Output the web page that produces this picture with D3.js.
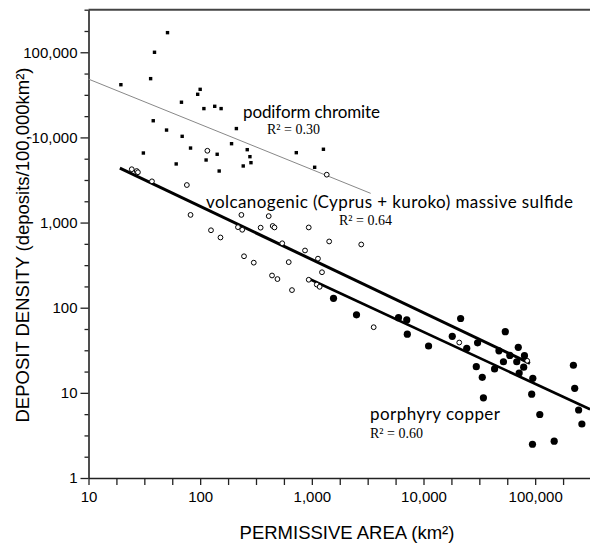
<!DOCTYPE html>
<html>
<head>
<meta charset="utf-8">
<script src="https://cdn.jsdelivr.net/npm/d3@7"></script>
<style>
body { margin: 0; background: #fff; }
</style>
</head>
<body>
<div id="vis"></div>
<script>
var width = 590;
var height = 545;

// podiform chromite, filled squares (km2, deposits/100,000km2)
var chromiteArea = [51, 39, 36, 19.5, 100, 95, 68, 108, 135, 154, 38, 50, 69, 211, 82, 191, 31, 142, 113, 264, 279, 285, 243, 61, 148, 726, 1270, 1060];
var chromiteDensity = [170000, 100000, 49000, 41600, 36700, 32100, 25900, 21800, 23200, 21800, 15700, 12200, 10300, 12700, 7500, 8440, 6560, 6340, 5430, 7180, 5940, 5050, 4620, 4880, 4030, 6620, 7260, 4460];

// volcanogenic massive sulfide, open circles
var vmsArea = [24.4, 27, 27.7, 37, 76, 116, 1360, 82, 234, 411, 125, 152, 218, 238, 348, 446, 463, 938, 543, 869, 1430, 2770, 1135, 247, 302, 621, 1233, 440, 492, 938, 1107, 1175, 664, 3580, 20900, 84900];
var vmsDensity = [4230, 4030, 3900, 3050, 2760, 6970, 3650, 1230, 1230, 1190, 812, 668, 883, 823, 871, 912, 876, 876, 571, 470, 600, 553, 377, 402, 338, 343, 261, 239, 217, 213, 187, 176, 161, 59, 39, 23.8];

// porphyry copper, filled circles
var pcArea = [1564, 2512, 5970, 7080, 7160, 11100, 21500, 18100, 24400, 30500, 29700, 33600, 34400, 54000, 47400, 43300, 59300, 70600, 68400, 52000, 80200, 78900, 71900, 95300, 93100, 110000, 94600, 148000, 220000, 226000, 245000, 262000];
var pcDensity = [129, 82.6, 76.4, 71.8, 48.9, 35.5, 74.7, 46.1, 33.4, 38.7, 20.3, 15.2, 8.75, 52.3, 31.2, 19.1, 27.5, 34.3, 23.2, 23.2, 27.3, 20.0, 17.1, 14.8, 9.64, 5.57, 2.49, 2.71, 21.1, 11.3, 6.29, 4.31];

// log-log regression lines: log10(d) = b + m*log10(a)
var fitSlope = [-0.531, -0.624, -0.609];
var fitIntercept = [5.216, 4.438, 4.151];
var fitFrom = [10, 19.1, 964];
var fitTo = [3365, 89800, 310000];

var xMajor = [10, 100, 1000, 10000, 100000];
var yMajor = [1, 10, 100, 1000, 10000, 100000];

var x = d3.scaleLog().domain([10, Math.pow(10, 5.5)]).range([88.5, 591]);
var y = d3.scaleLog().domain([1, Math.pow(10, 5.5)]).range([478, 9.7]);

var quarter = function(lo, hi) {
  var out = [];
  for (var e = lo; e <= hi + 1e-9; e += 0.25) out.push(Math.pow(10, e));
  return out;
};
var xTicks = quarter(1, 5.5);
var yMinor = quarter(0, 5.5).filter(v => Math.abs(Math.log10(v) % 1) > 0.01);

var svg = d3.select("#vis")
  .append("svg")
  .attr("width", width)
  .attr("height", height)
  .style("font-family", "'Liberation Sans', Arial, sans-serif");

// top frame line
svg.append("line")
  .attr("x1", x(10)).attr("x2", width)
  .attr("y1", y(Math.pow(10, 5.5))).attr("y2", y(Math.pow(10, 5.5)))
  .attr("stroke", "#444").attr("stroke-width", 2);

var fmt = d3.format(",");

// y axis
svg.append("g")
  .attr("transform", `translate(${x(10)},0)`)
  .call(d3.axisLeft(y).tickValues(yMajor).tickFormat(fmt).tickSize(8).tickPadding(3).tickSizeOuter(0));
svg.append("g")
  .attr("transform", `translate(${x(10)},0)`)
  .call(d3.axisLeft(y).tickValues(yMinor).tickFormat("").tickSize(4).tickSizeOuter(0))
  .select(".domain").remove();

// x axis
svg.append("g")
  .attr("transform", `translate(0,${y(1)})`)
  .call(d3.axisBottom(x).tickValues(xTicks)
    .tickFormat(d => xMajor.indexOf(Math.round(d)) >= 0 ? fmt(Math.round(d)) : "")
    .tickSize(7).tickPadding(6).tickSizeOuter(0));

svg.selectAll(".domain").attr("stroke", "#222").attr("stroke-width", 1.6);
svg.selectAll(".tick line").attr("stroke", "#222").attr("stroke-width", 1.3);
svg.selectAll(".tick text")
  .attr("fill", "#000")
  .style("font-size", "15px")
  .style("font-family", "'Liberation Sans', Arial, sans-serif");

// regression lines
var fitStroke = ["#888", "#000", "#000"];
var fitWidth = [1, 3, 2.6];
var line = d3.line().x(d => x(d[0])).y(d => y(d[1]));
fitSlope.forEach(function(m, i) {
  var ends = [fitFrom[i], fitTo[i]].map(a => [a, Math.pow(10, fitIntercept[i] + m * Math.log10(a))]);
  svg.append("path")
    .attr("d", line(ends))
    .attr("fill", "none")
    .attr("stroke", fitStroke[i])
    .attr("stroke-width", fitWidth[i]);
});

// points
svg.append("g").selectAll("rect")
  .data(d3.zip(chromiteArea, chromiteDensity))
  .enter().append("rect")
  .attr("x", d => x(d[0]) - 1.7)
  .attr("y", d => y(d[1]) - 1.7)
  .attr("width", 3.4).attr("height", 3.4)
  .attr("fill", "#000");

svg.append("g").selectAll("circle")
  .data(d3.zip(vmsArea, vmsDensity))
  .enter().append("circle")
  .attr("cx", d => x(d[0]))
  .attr("cy", d => y(d[1]))
  .attr("r", 2.4)
  .attr("fill", "#fff")
  .attr("stroke", "#000")
  .attr("stroke-width", 1);

svg.append("g").selectAll("circle")
  .data(d3.zip(pcArea, pcDensity))
  .enter().append("circle")
  .attr("cx", d => x(d[0]))
  .attr("cy", d => y(d[1]))
  .attr("r", 3.6)
  .attr("fill", "#000");

// annotations
var lab = svg.append("g").style("font-family", "Lato, 'Noto Sans', sans-serif").style("font-size", "17px");
lab.append("text").attr("x", 243).attr("y", 118).attr("textLength", 137).text("podiform chromite");
lab.append("text").attr("x", 206).attr("y", 208).attr("textLength", 367).text("volcanogenic (Cyprus + kuroko) massive sulfide");
lab.append("text").attr("x", 370).attr("y", 420).attr("textLength", 130).text("porphyry copper");

var r2 = svg.append("g").style("font-family", "'Liberation Serif', 'Times New Roman', serif").style("font-size", "14px");
r2.append("text").attr("x", 267).attr("y", 134).text("R² = 0.30");
r2.append("text").attr("x", 339).attr("y", 225).text("R² = 0.64");
r2.append("text").attr("x", 370).attr("y", 438).text("R² = 0.60");

// axis titles
svg.append("text")
  .attr("transform", "translate(28.5,245) rotate(-90)")
  .attr("text-anchor", "middle")
  .style("font-size", "18.5px")
  .text("DEPOSIT DENSITY (deposits/100,000km²)");

svg.append("text")
  .attr("x", 347)
  .attr("y", 539)
  .attr("text-anchor", "middle")
  .style("font-size", "18.5px")
  .text("PERMISSIVE AREA (km²)");
</script>
</body>
</html>
